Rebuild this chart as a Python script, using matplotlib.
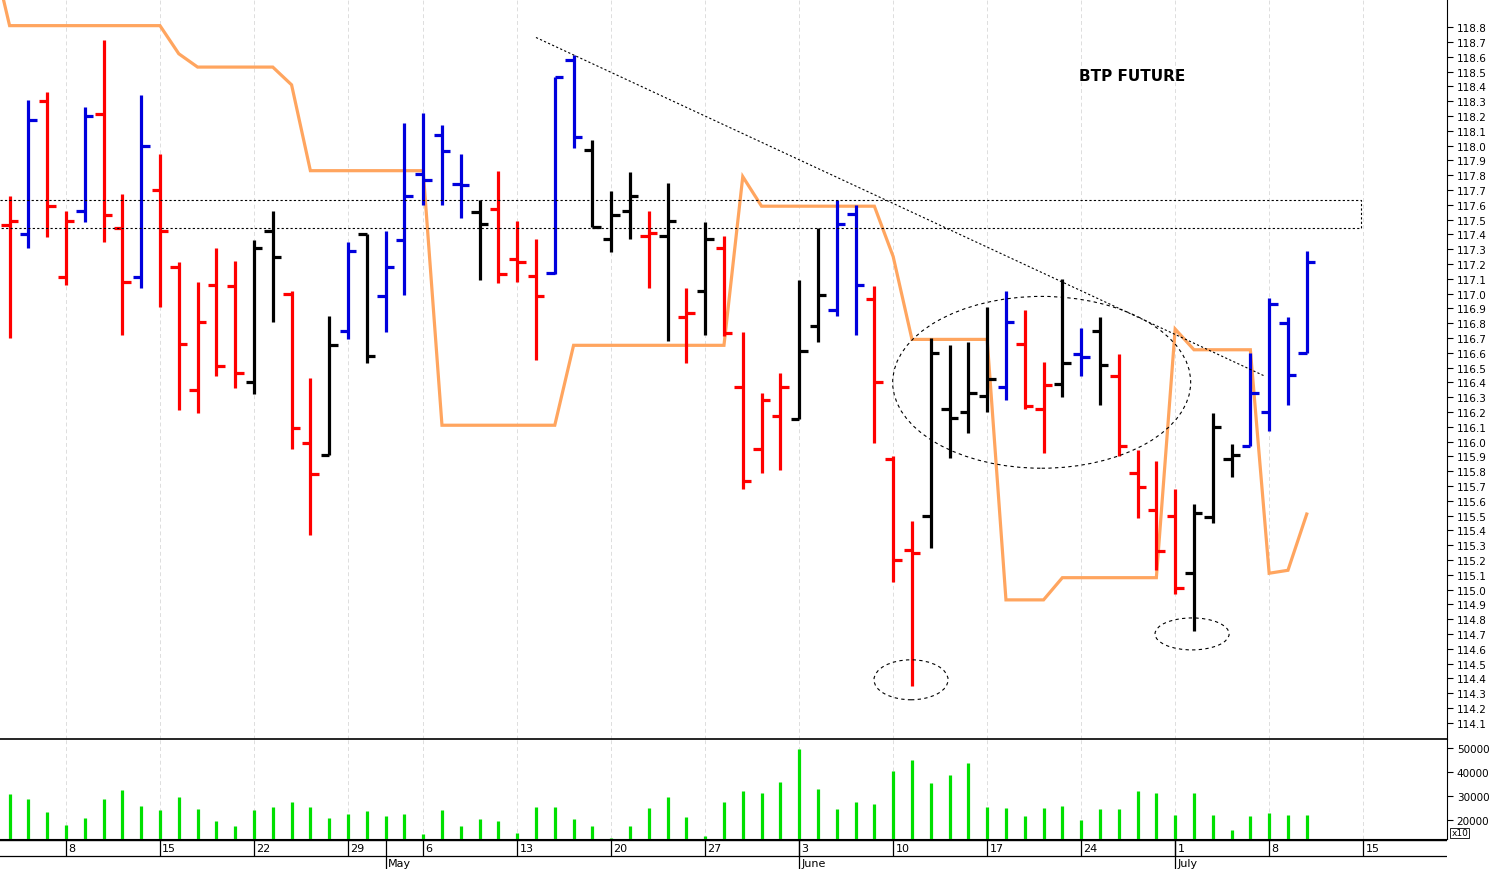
import numpy as np
import matplotlib
matplotlib.use("Agg")
import matplotlib.pyplot as plt
from matplotlib.patches import Ellipse

# ---------------- data ----------------
opens  = [117.46,117.40,118.30,117.11,117.56,118.21,117.44,117.11,117.70,117.18,
          116.35,117.06,117.05,116.40,117.42,117.00,115.99,115.91,116.75,117.40,
          116.98,117.36,117.81,118.07,117.74,117.55,117.57,117.23,117.12,117.14,
          118.58,117.97,117.37,117.56,117.39,117.39,116.84,117.02,117.31,116.37,
          115.95,116.17,116.15,116.78,116.89,117.54,116.96,115.88,115.27,115.50,
          116.22,116.20,116.31,116.37,116.66,116.22,116.39,116.59,116.75,116.44,
          115.79,115.54,115.50,115.11,115.49,115.88,115.97,116.20,116.80,116.60]
highs  = [117.66,118.31,118.36,117.56,118.26,118.71,117.67,118.34,117.94,117.21,
          117.08,117.31,117.22,117.36,117.56,117.02,116.43,116.85,117.35,117.40,
          117.42,118.15,118.22,118.14,117.94,117.63,117.83,117.49,117.37,118.46,
          118.61,118.04,117.69,117.82,117.56,117.75,117.04,117.48,117.39,116.74,
          116.33,116.46,117.09,117.44,117.63,117.60,117.05,115.90,115.46,116.70,
          116.65,116.67,116.91,117.02,116.89,116.54,117.10,116.77,116.84,116.59,
          115.94,115.87,115.68,115.58,116.19,115.98,116.60,116.97,116.84,117.29]
lows   = [116.70,117.31,117.38,117.06,117.48,117.35,116.72,117.04,116.91,116.21,
          116.19,116.44,116.36,116.32,116.81,115.95,115.37,115.91,116.69,116.53,
          116.74,116.99,117.60,117.60,117.51,117.09,117.07,117.08,116.55,117.13,
          117.98,117.45,117.28,117.37,117.04,116.68,116.53,116.72,116.71,115.68,
          115.79,115.81,116.15,116.67,116.85,116.72,115.99,115.05,114.35,115.28,
          115.89,116.06,116.20,116.28,116.22,115.92,116.30,116.44,116.25,115.90,
          115.48,115.13,114.97,114.72,115.45,115.76,115.97,116.07,116.25,116.60]
closes = [117.49,118.17,117.59,117.49,118.20,117.53,117.08,118.00,117.42,116.66,
          116.81,116.51,116.46,117.31,117.25,116.09,115.78,116.65,117.29,116.58,
          117.18,117.66,117.77,117.96,117.73,117.47,117.13,117.21,116.98,118.46,
          118.06,117.45,117.53,117.66,117.41,117.49,116.87,117.37,116.73,115.73,
          116.28,116.37,116.61,116.99,117.47,117.06,116.40,115.20,115.25,116.60,
          116.16,116.33,116.42,116.81,116.24,116.38,116.53,116.57,116.52,115.97,
          115.69,115.26,115.01,115.52,116.10,115.91,116.33,116.93,116.45,117.21]
bar_color_codes = "rbrrbrrbrrrrrkkrrkbkbbbbbkrrrbbkkkrkrkrrrrkkbbrrrkkkkbrrkbkrrrrkkkbbbb"
volumes = [30970,28640,23290,17800,20820,28640,32620,25620,23980,29460,
           24390,19180,17120,23980,25210,27270,25490,20690,22330,23570,
           21510,22330,13960,23980,17390,20270,19180,14240,25210,25490,
           20410,17120,12040,17120,24800,29330,21100,12870,27410,32210,
           31110,35910,49900,33030,24250,27410,26720,40440,45240,35500,
           38650,43730,25210,25070,21510,25070,25620,19590,24250,24530,
           32210,31110,21920,31110,21920,15610,21510,22880,21920,21920]
indicator = [119.35] + [118.81]*9 + [118.62] + [118.53]*5 + [118.41] + [117.83]*7 + \
            [116.11]*7 + [116.65]*9 + [117.79] + [117.59]*7 + [117.25] + [116.69]*5 + \
            [114.93]*3 + [115.08]*6 + [116.76] + [116.62]*4 + [115.11, 115.13, 115.51]
zone_prices = [117.44, 117.63]
trend_pts = [(28.0, 118.73), (66.8, 116.44)]
week_idx = [3, 8, 13, 18, 22, 27, 32, 37, 42, 47, 52, 57, 62, 67, 72]
week_labels = ["8", "15", "22", "29", "6", "13", "20", "27", "3", "10", "17", "24", "1", "8", "15"]
month_idx = [-4.6, 20, 42, 62]
month_labels = ["April", "May", "June", "July"]
title = "BTP FUTURE"

# ---------------- figure ----------------
W, H = 1495, 870
fig = plt.figure(figsize=(W/100, H/100), dpi=100)
fig.patch.set_facecolor("white")
axw = 1447/W
XL = (-0.51, 76.46)
axv = fig.add_axes([0, 30/H, axw, 100/H])
axd = fig.add_axes([0, 0, axw, 30/H])
ax = fig.add_axes([0, 130/H, axw, 740/H])
for a in (axv, axd, ax):
    a.patch.set_visible(False)

cmap = {"r": "#ff0000", "b": "#0000dd", "k": "#000000"}
idx = np.arange(len(opens))
cols = [cmap[c] for c in bar_color_codes]

for a in (ax, axv):
    a.set_xlim(*XL)
    for w in week_idx:
        a.axvline(w, color="#dddddd", lw=0.7, ls=(0, (4, 3)), zorder=0)

ax.set_ylim(113.99, 118.99)
ax.vlines(idx, lows, highs, colors=cols, lw=2.3, zorder=3)
ax.hlines(opens, idx - 0.45, idx, colors=cols, lw=2.3, zorder=3)
ax.hlines(closes, idx, idx + 0.45, colors=cols, lw=2.3, zorder=3)
ax.plot(np.arange(-1, len(indicator) - 1), indicator, color="#ffa55f", lw=2.3, zorder=2,
        solid_joinstyle="miter")

ax.plot([XL[0], 71.9, 71.9, XL[0]], [zone_prices[1], zone_prices[1], zone_prices[0], zone_prices[0]],
        color="black", lw=0.8, ls=(0, (2, 2)), zorder=4)
ax.plot([p[0] for p in trend_pts], [p[1] for p in trend_pts], color="black", lw=0.8,
        ls=(0, (2, 2)), zorder=4)
for (cx, cy, ew, eh) in [(54.9, 116.40, 15.85, 1.161), (47.95, 114.39, 3.94, 0.27),
                         (62.9, 114.70, 3.94, 0.216)]:
    ax.add_patch(Ellipse((cx, cy), ew, eh, fill=False, ec="black", lw=0.8,
                         ls=(0, (3, 3)), zorder=4))
ax.text(59.7, 118.47, title, ha="center", va="center", fontsize=11, fontweight="bold",
        family="DejaVu Sans")

ax.yaxis.tick_right()
ax.set_yticks(np.round(np.arange(114.1, 118.85, 0.1), 1))
ax.set_yticklabels([f"{v:.1f}" for v in np.arange(114.1, 118.85, 0.1)], fontsize=7.5)
ax.tick_params(axis="y", length=4, pad=3)
ax.set_xticks([])
for s in ("left", "top"):
    ax.spines[s].set_visible(False)
ax.spines["bottom"].set_linewidth(1.2)
ax.spines["bottom"].set_color("black")

axv.set_ylim(11770, 54000)
axv.vlines(idx, 11770, volumes, colors="#00e000", lw=2.3, zorder=3)
axv.yaxis.tick_right()
axv.set_yticks([20000, 30000, 40000, 50000])
axv.set_yticklabels(["20000", "30000", "40000", "50000"], fontsize=7.5)
axv.tick_params(axis="y", length=4, pad=3)
axv.set_xticks([])
for s in ("left", "top"):
    axv.spines[s].set_visible(False)
axv.text(1.003, 0.06, "x10", transform=axv.transAxes, fontsize=6.5, va="center", ha="left",
         bbox=dict(boxstyle="square,pad=0.1", fc="white", ec="black", lw=0.6))

axd.set_xlim(*XL)
axd.set_ylim(0, 30)
axd.axis("off")
axd.axhline(13.5, color="black", lw=0.9)
axd.axhline(29.5, color="black", lw=1.0)
for w, lab in zip(week_idx, week_labels):
    axd.vlines(w, 13.5, 30, color="black", lw=0.9)
    axd.text(w + 0.12, 21, lab, fontsize=8, va="center", ha="left")
for m, lab in zip(month_idx, month_labels):
    axd.vlines(m, 0, 30, color="black", lw=0.9)
    axd.text(m + 0.12, 6, lab, fontsize=8, va="center", ha="left", clip_on=False)

fig.savefig("out.png", dpi=100)
